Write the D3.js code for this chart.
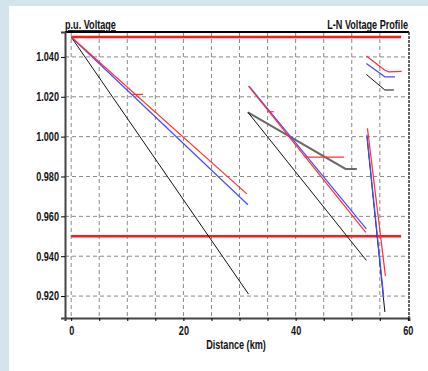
<!DOCTYPE html>
<html>
<head>
<meta charset="utf-8">
<script src="https://cdn.jsdelivr.net/npm/d3@7"></script>
<style>
  html, body { margin: 0; padding: 0; background: #d3e4ec; }
  #chart { position: absolute; left: 9px; top: 6px; width: 419px; height: 365px; background: #fff; }
  text { font-family: "Liberation Sans", Arial, sans-serif; font-weight: bold; fill: #111; }
</style>
</head>
<body>
<div id="chart"></div>
<script>
document.addEventListener("DOMContentLoaded", function() {

  // axis ticks
  const xTicks = [0, 20, 40, 60];
  const xMinor = d3.range(0, 61, 5);
  const yTicks = [0.92, 0.94, 0.96, 0.98, 1.00, 1.02, 1.04];
  const limits = [1.05, 0.95];

  // voltage profile segments per phase: [distance km, p.u.]
  const phaseRed = [
    [[0, 1.05], [31.3, 0.9713]],
    [[10.9, 1.0212], [12.8, 1.0212]],
    [[31.6, 1.0253], [52.5, 0.952]],
    [[35.0, 1.0125], [36.1, 1.0125]],
    [[41.6, 0.9897], [48.6, 0.9897]],
    [[52.6, 1.0405], [55.9, 1.0333], [56.6, 1.0325], [58.9, 1.0327]],
    [[52.8, 1.0042], [56.0, 0.930]]
  ];
  const phaseBlue = [
    [[0, 1.05], [31.5, 0.9658]],
    [[31.7, 1.0253], [52.6, 0.9537]],
    [[52.6, 1.0367], [55.9, 1.030], [57.7, 1.030]],
    [[52.7, 1.001], [55.7, 0.9192]]
  ];
  const phaseBlack = [
    [[0, 1.05], [31.6, 0.921]],
    [[31.5, 1.0122], [52.6, 0.9379]],
    [[52.6, 1.0312], [55.9, 1.0234], [57.5, 1.0234]],
    [[52.7, 1.000], [55.9, 0.912]]
  ];
  const branchGray = [
    [[31.5, 1.0122], [48.9, 0.9838], [50.9, 0.9838]]
  ];

  const width = 428, height = 371;

  const svg = d3.select("body").append("svg")
      .attr("width", width)
      .attr("height", height)
      .style("position", "absolute")
      .style("left", 0).style("top", 0);

  const x = d3.scaleLinear().domain([-1.1, 60.2]).range([65, 409]);
  const y = d3.scaleLinear().domain([0.909, 1.0525]).range([318, 32]);

  // grid
  svg.append("g").selectAll("line")
    .data(xMinor.filter(d => d < 60))
    .enter().append("line")
      .attr("x1", d => x(d)).attr("x2", d => x(d))
      .attr("y1", y.range()[1]).attr("y2", y.range()[0])
      .attr("stroke", "#8a8a8a").attr("stroke-dasharray", "4,3");

  svg.append("g").selectAll("line")
    .data(yTicks)
    .enter().append("line")
      .attr("x1", x.range()[0]).attr("x2", x.range()[1])
      .attr("y1", d => y(d)).attr("y2", d => y(d))
      .attr("stroke", "#8a8a8a").attr("stroke-dasharray", "4,3");

  // limit lines
  svg.append("g").selectAll("line")
    .data(limits)
    .enter().append("line")
      .attr("x1", x(0)).attr("x2", x(58.8))
      .attr("y1", d => y(d)).attr("y2", d => y(d))
      .attr("stroke", "#ff1a1a").attr("stroke-width", 2.5);

  const line = d3.line().x(d => x(d[0])).y(d => y(d[1]));

  function drawSegs(segs, color, w) {
    svg.append("g").selectAll("path")
      .data(segs)
      .enter().append("path")
        .attr("d", line)
        .attr("fill", "none")
        .attr("stroke", color)
        .attr("stroke-width", w);
  }

  drawSegs(branchGray, "#6a6a6a", 2);
  drawSegs(phaseBlack, "#111", 1);
  drawSegs(phaseBlue, "#4a4aff", 1.2);
  drawSegs(phaseRed, "#ff3030", 1.2);

  // frame
  svg.append("line")
    .attr("x1", x.range()[0]).attr("x2", x.range()[1])
    .attr("y1", 32).attr("y2", 32)
    .attr("stroke", "#000").attr("stroke-width", 2);
  svg.append("line")
    .attr("x1", 409).attr("x2", 409)
    .attr("y1", 32).attr("y2", 318)
    .attr("stroke", "#333").attr("stroke-width", 1.5)
    .attr("stroke-dasharray", "3,1");

  // axes
  const yAxis = d3.axisLeft(y).tickValues(yTicks).tickFormat(d3.format(".3f")).tickSize(4).tickPadding(2);
  const gy = svg.append("g").attr("transform", `translate(${x.range()[0]},0)`).call(yAxis);
  gy.select(".domain").attr("stroke", "#444").attr("stroke-width", 2);
  gy.selectAll("text").style("font-size", "12px").attr("font-family", null);

  const xAxis = d3.axisBottom(x).tickValues(xMinor).tickFormat(d => xTicks.includes(d) ? d : "").tickSize(3).tickPadding(5);
  const gx = svg.append("g").attr("transform", `translate(0,${y.range()[0]})`).call(xAxis);
  gx.select(".domain").attr("stroke", "#444").attr("stroke-width", 2);
  gx.selectAll("text").style("font-size", "12px").attr("font-family", null);

  // titles
  svg.append("text").attr("x", 65).attr("y", 29)
    .style("font-size", "12px").style("text-decoration", "underline")
    .text("p.u. Voltage");
  svg.append("text").attr("x", 408).attr("y", 29)
    .attr("text-anchor", "end")
    .style("font-size", "12px")
    .text("L-N Voltage Profile");
  svg.append("text").attr("x", 236).attr("y", 349)
    .attr("text-anchor", "middle")
    .style("font-size", "12px")
    .text("Distance (km)");

  // squeeze text horizontally around its anchor to look like a narrow face
  svg.selectAll("text").each(function() {
    const t = d3.select(this);
    const ax = +(t.attr("x") || 0);
    t.attr("transform", `translate(${ax},0) scale(0.76,1) translate(${-ax},0)`);
  });
});
</script>
</body>
</html>
